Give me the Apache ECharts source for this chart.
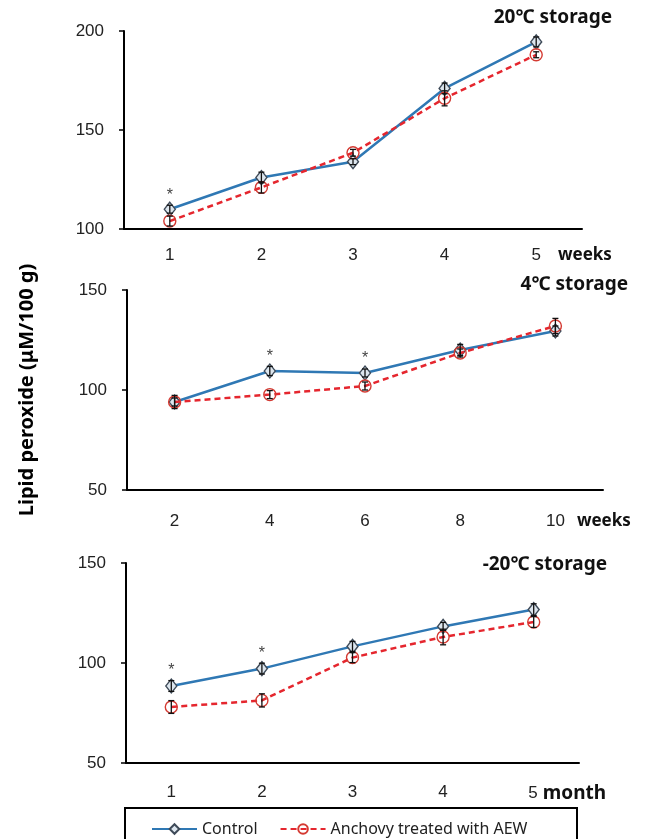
<!DOCTYPE html>
<html><head><meta charset="utf-8">
<script src="https://cdn.jsdelivr.net/npm/echarts@6/dist/echarts.min.js"></script>
<style>html,body{margin:0;padding:0;background:#fff}#c{width:648px;height:839px}</style>
</head><body><div id="c"></div>
<script>
// ---------- data ----------
const seriesNames = ['Control', 'Anchovy treated with AEW'];
const panelTitles = ['20\u2103 storage', '4\u2103 storage', '-20\u2103 storage'];
const yAxisTitle = 'Lipid peroxide (\u03bcM/100 g)';
const xCats1 = ['1', '2', '3', '4', '5'];
const xCats2 = ['2', '4', '6', '8', '10'];
const xCats3 = ['1', '2', '3', '4', '5'];
const xUnits = ['weeks', 'weeks', 'month'];
const yMins = [100, 50, 50];
const yMaxs = [200, 150, 150];
const yStep = 50;

const control1 = [110, 126, 134, 171, 194.5];
const control1Err = [2, 2.7, 1.5, 2.7, 2.5];
const aew1 = [104, 121, 138.5, 166, 188];
const aew1Err = [2.5, 2.8, 1.7, 3.8, 1.5];
const sig1 = [1, 0, 0, 0, 0];

const control2 = [94, 109.5, 108.5, 120, 129.5];
const control2Err = [3.3, 2.3, 2, 2.8, 2.5];
const aew2 = [94, 97.7, 102, 118.5, 132];
const aew2Err = [2, 2, 2, 2, 3.8];
const sig2 = [0, 1, 1, 0, 0];

const control3 = [88.5, 97.2, 108.3, 118.3, 126.7];
const control3Err = [2.7, 2.7, 2.5, 2, 2.9];
const aew3 = [78, 81.3, 102.7, 113, 120.5];
const aew3Err = [3.2, 3.3, 2.5, 3.9, 2.7];
const sig3 = [1, 1, 0, 0, 0];

// ---------- layout ----------
const panels = [
  {cats: xCats1, ctrl: control1, ctrlErr: control1Err, aew: aew1, aewErr: aew1Err, sig: sig1},
  {cats: xCats2, ctrl: control2, ctrlErr: control2Err, aew: aew2, aewErr: aew2Err, sig: sig2},
  {cats: xCats3, ctrl: control3, ctrlErr: control3Err, aew: aew3, aewErr: aew3Err, sig: sig3}
];
const grids = [
  {left: 124, top: 31, width: 458, height: 198},
  {left: 127, top: 290, width: 476, height: 200},
  {left: 126, top: 563, width: 453, height: 200}
];
const labelMargins = [18, 23, 21];
const unitGaps = [17, 12, 5];
const unitFont = [17, 17, 19];
const unitWidths = [54, 54, 62];
const titlePos = [{right: 36, top: 8}, {right: 20, top: 275}, {right: 41, top: 555}];

const FONT = "'Liberation Sans', Arial, sans-serif";
const BOLD_FONT = "'Noto Sans', 'Noto Sans CJK KR', sans-serif";
const BLUE = '#2f78b4';
const RED = '#e5262e';

const chart = echarts.init(document.getElementById('c'), null, {renderer: 'canvas'});

const option = {
  backgroundColor: '#fff',
  animation: false,
  title: panelTitles.map((t, i) => ({
    text: t, right: titlePos[i].right, top: titlePos[i].top, padding: 0,
    textStyle: {fontFamily: BOLD_FONT, fontWeight: 'bold', fontSize: 19, color: '#111'}
  })),
  grid: grids,
  legend: {
    data: seriesNames, left: 146, top: 816, itemWidth: 45, itemHeight: 12, itemGap: 22,
    textStyle: {fontFamily: "'Noto Sans', sans-serif", fontSize: 16, color: '#222'}
  },
  graphic: [{
    type: 'rect', shape: {x: 125, y: 808, width: 452, height: 45},
    style: {fill: 'none', stroke: '#000', lineWidth: 2}, silent: true
  }],
  xAxis: panels.map((p, i) => ({
    type: 'category', gridIndex: i, data: p.cats, boundaryGap: true,
    axisLine: {lineStyle: {color: '#000', width: 2}},
    axisTick: {alignWithLabel: true, length: 5, lineStyle: {color: '#000', width: 1.5}},
    axisLabel: {
      interval: 0,
      margin: labelMargins[i], fontFamily: FONT, fontSize: 17, color: '#222',
      formatter: (v, idx) => idx === p.cats.length - 1 ? '{p| }' + v + '{u|' + xUnits[i] + '}' : v,
      rich: {
        p: {width: unitGaps[i] + unitWidths[i]},
        u: {fontFamily: BOLD_FONT, fontWeight: 'bold', fontSize: unitFont[i], color: '#111', padding: [0, 0, 0, unitGaps[i]]}
      }
    },
    splitLine: {show: false}
  })),
  yAxis: panels.map((p, i) => ({
    type: 'value', gridIndex: i, min: yMins[i], max: yMaxs[i], interval: yStep,
    axisLine: {show: true, lineStyle: {color: '#000', width: 2}},
    axisTick: {show: true, length: 5, lineStyle: {color: '#000', width: 1.5}},
    axisLabel: {margin: 20, fontFamily: FONT, fontSize: 17, color: '#222'},
    splitLine: {show: false},
    name: i === 1 ? yAxisTitle : '',
    nameLocation: 'middle', nameGap: 90,
    nameTextStyle: {fontFamily: BOLD_FONT, fontWeight: 'bold', fontSize: 20, color: '#000'}
  })),
  series: []
};

function errBarSeries(vals, errs, gi) {
  return {
    type: 'custom', xAxisIndex: gi, yAxisIndex: gi, z: 5, silent: true,
    data: vals.map((v, k) => [k, v, errs[k]]),
    encode: {x: 0, y: 1},
    renderItem: (params, api) => {
      const x = api.value(0), v = api.value(1), e = api.value(2);
      const t = api.coord([x, v + e]), b = api.coord([x, v - e]);
      const c = 3;
      const st = {stroke: '#111', lineWidth: 1.3};
      return {type: 'group', children: [
        {type: 'line', shape: {x1: t[0], y1: t[1], x2: b[0], y2: b[1]}, style: st},
        {type: 'line', shape: {x1: t[0] - c, y1: t[1], x2: t[0] + c, y2: t[1]}, style: st},
        {type: 'line', shape: {x1: b[0] - c, y1: b[1], x2: b[0] + c, y2: b[1]}, style: st}
      ]};
    }
  };
}

function starSeries(vals, errs, sig, gi) {
  const d = [];
  sig.forEach((s, k) => { if (s) d.push([k, vals[k] + errs[k]]); });
  return {
    type: 'custom', xAxisIndex: gi, yAxisIndex: gi, z: 6, silent: true,
    data: d, encode: {x: 0, y: 1},
    renderItem: (params, api) => {
      const pt = api.coord([api.value(0), api.value(1)]);
      return {type: 'text', x: pt[0], y: pt[1] - 2,
        style: {text: '*', fill: '#444', font: '16px ' + FONT, align: 'center', verticalAlign: 'bottom'}};
    }
  };
}

panels.forEach((p, i) => {
  option.series.push({
    name: seriesNames[0], type: 'line', xAxisIndex: i, yAxisIndex: i, data: p.ctrl, z: 3,
    symbol: 'diamond', symbolSize: [11, 14], showAllSymbol: true,
    lineStyle: {color: BLUE, width: 2.5},
    itemStyle: {color: '#dde6ee', borderColor: '#3e4a58', borderWidth: 1.4}
  });
  option.series.push({
    name: seriesNames[1], type: 'line', xAxisIndex: i, yAxisIndex: i, data: p.aew, z: 4,
    symbol: 'circle', symbolSize: 12, showAllSymbol: true,
    lineStyle: {color: RED, width: 2.5, type: [6, 4]},
    itemStyle: {color: 'rgba(255,255,255,0)', borderColor: '#d43a32', borderWidth: 1.4}
  });
  option.series.push(errBarSeries(p.ctrl, p.ctrlErr, i));
  option.series.push(errBarSeries(p.aew, p.aewErr, i));
  option.series.push(starSeries(p.ctrl, p.ctrlErr, p.sig, i));
});

chart.setOption(option);
</script>
</body></html>
